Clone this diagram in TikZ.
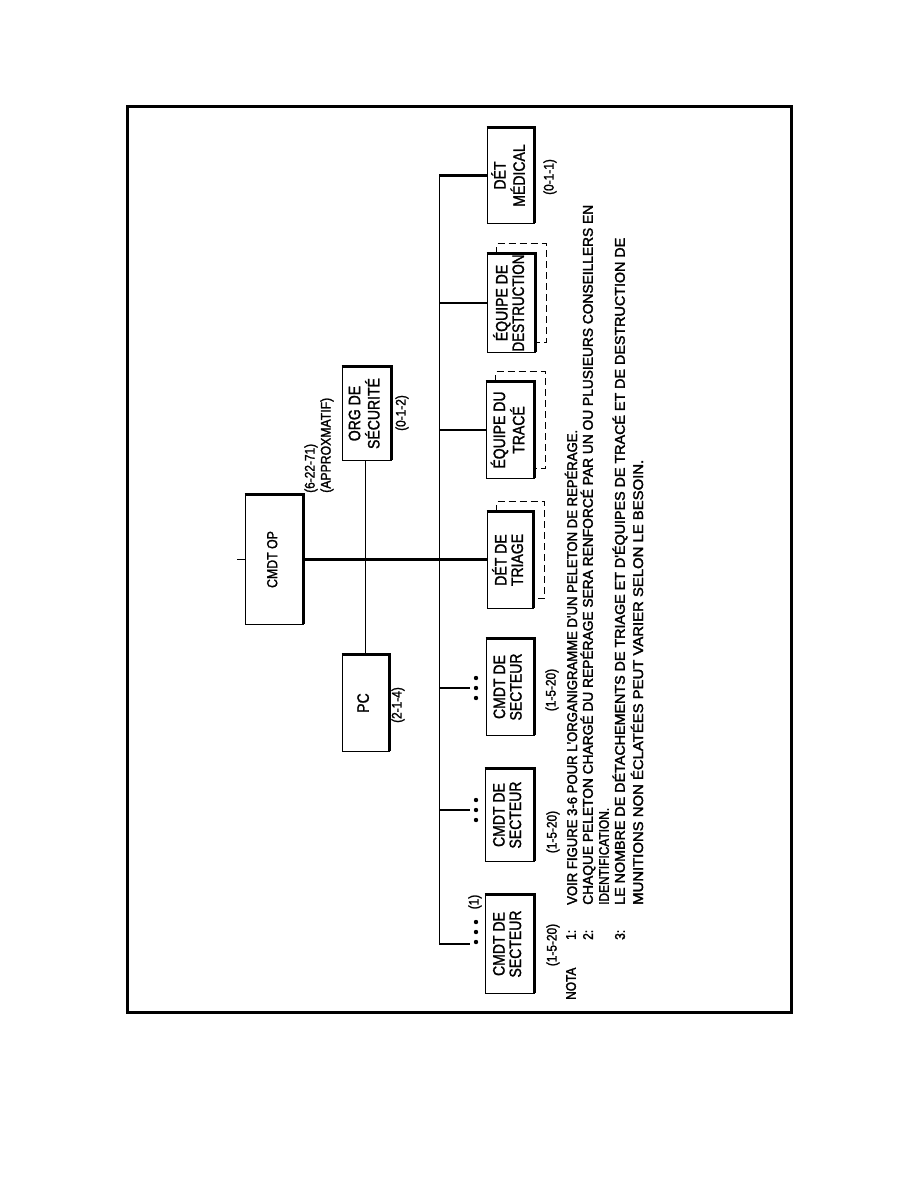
\documentclass[tikz,border=0pt]{standalone}
\usepackage{fontspec}
\setmainfont{Liberation Sans}
\newfontfamily\cond[FakeStretch=0.85,FakeBold=1.5]{Liberation Sans}
\newfontfamily\notefont[FakeStretch=0.85,FakeBold=2]{Liberation Sans}
\usetikzlibrary{calc}
\tikzset{
  orgbox/.style={draw, line width=0.6pt, inner sep=0pt, fill=white,
    font=\cond\fontsize{16.5}{16.5}\selectfont},
  heavy/.style={line width=2.8pt},
  thinline/.style={line width=0.8pt},
  shadowline/.style={line width=0.7pt, dash pattern=on 7pt off 4pt},
  rlabel/.style={rotate=90, inner sep=0pt, font=\cond\fontsize{14}{16}\selectfont},
  note/.style={rotate=90, inner sep=0pt, anchor=west, font=\notefont\fontsize{14}{16}\selectfont},
  dot/.style={circle, fill=black, inner sep=0pt, minimum size=4.4pt}
}
\newcommand{\rtxt}[1]{\rotatebox{90}{\begin{tabular}{@{}c@{}}#1\end{tabular}}}
\newcommand{\fitto}[2]{\resizebox{#1pt}{\height}{#2}}
\begin{document}
\begin{tikzpicture}[x=1pt,y=-1pt]
\useasboundingbox (0,0) rectangle (918,1188);
\draw[line width=3pt] (127,107) rectangle (791,1012);

% boxes
\node[orgbox, minimum width=58, minimum height=129, font=\cond\fontsize{14.5}{16}\selectfont] (op) at (274,559.5) {\rtxt{CMDT OP}};
\node[orgbox, minimum width=47, minimum height=96] (pc) at (365.5,703) {\rtxt{PC}};
\node[orgbox, minimum width=49, minimum height=93] (org) at (366.5,413.5) {\rtxt{ORG DE\\SÉCURITÉ}};
\node[orgbox, minimum width=47, minimum height=95] (med) at (510.5,175.5) {\rtxt{DÉT\\MÉDICAL}};
\node[orgbox, minimum width=48, minimum height=98] (des) at (511,303) {\rtxt{ÉQUIPE DE\\\fitto{97}{DESTRUCTION}}};
\node[orgbox, minimum width=48, minimum height=96] (tra) at (510,430) {\rtxt{ÉQUIPE DU\\TRACÉ}};
\node[orgbox, minimum width=46, minimum height=96] (tri) at (510,560) {\rtxt{DÉT DE\\TRIAGE}};
\node[orgbox, minimum width=48, minimum height=96] (s3) at (510,687) {\rtxt{CMDT DE\\SECTEUR}};
\node[orgbox, minimum width=49, minimum height=92] (s2) at (509.5,815) {\rtxt{CMDT DE\\SECTEUR}};
\node[orgbox, minimum width=49, minimum height=98] (s1) at (509.5,944) {\rtxt{CMDT DE\\SECTEUR}};

% heavy top/right edges
\foreach \b in {op,pc,org,med,des,tra,tri,s3,s2,s1}
  \draw[heavy] (\b.north west) -- (\b.north east) -- (\b.south east);

% dashed shadows
\foreach \b in {des,tra,tri}
  \draw[shadowline] ($(\b.north west)+(10,0)$) -- ++(0,-10) -| ($(\b.south east)+(11,-10)$) -- ($(\b.south east)+(0,-10)$);

% labels
\node[rlabel, anchor=west] (oplbl1) at (311,493) {(6-22-71)};
\node[rlabel, anchor=west] (oplbl2) at (327,493) {\fitto{95}{(APPROXMATIF)}};
\node[rlabel] (pcl) at (398,705) {(2-1-4)};
\node[rlabel] (orgl) at (402,413) {(0-1-2)};
\node[rlabel] (medl) at (550,177) {(0-1-1)};
\node[rlabel] (s3l) at (552,690) {(1-5-20)};
\node[rlabel] (s2l) at (553,832) {(1-5-20)};
\node[rlabel] (s1l) at (553,945) {(1-5-20)};
\node[rlabel] (n1) at (475,902) {(1)};

% connectors
\coordinate (bt) at (439,176);
\coordinate (bb) at (439,944);
\draw[thinline] (bt) -- (bb);
\draw[heavy] (op.east) -- (op.east -| tri.west);
\draw[line width=1.4pt] (op.west) -- ++(-8,0);
\draw[thinline] (pc.north) -- (pc.north |- org.south);
\draw[heavy] (bt |- med.west) -- (med.west);
\draw[heavy] (bt |- des.west) -- (des.west);
\draw[heavy] (bt |- tra.west) -- (tra.west);

% sector stubs with dots
\foreach \s/\y in {s3/688, s2/810, s1/944}{
  \coordinate (d\s) at (470,\y);
  \draw[heavy] (bt |- d\s) -- (d\s);
}
\foreach \s/\y in {s3/688, s2/810, s1/932}{
  \node[dot] at (476,\y-10) {};
  \node[dot] at (476,\y) {};
  \node[dot] at (476,\y+10) {};
}

% notes
\node[note] (nota) at (571,1000) {NOTA};
\node[note] (k1) at (571,940) {1:};
\node[note] (t1) at (571,905) {\fitto{475}{VOIR FIGURE 3-6 POUR L'ORGANIGRAMME D'UN PELETON DE REPÉRAGE.}};
\node[note] (k2) at (588,940) {2:};
\node[note] (t2) at (588,905) {\fitto{700}{CHAQUE PELETON CHARGÉ DU REPÉRAGE SERA RENFORCÉ PAR UN OU PLUSIEURS CONSEILLERS EN}};
\node[note] (t2b) at (604,905) {IDENTIFICATION.};
\node[note] (k3) at (620,940) {3:};
\node[note] (t3) at (620,905) {\fitto{667}{LE NOMBRE DE DÉTACHEMENTS DE TRIAGE ET D'ÉQUIPES DE TRACÉ ET DE DESTRUCTION DE}};
\node[note] (t3b) at (637,905) {\fitto{445}{MUNITIONS NON ÉCLATÉES PEUT VARIER SELON LE BESOIN.}};
\end{tikzpicture}
\end{document}
